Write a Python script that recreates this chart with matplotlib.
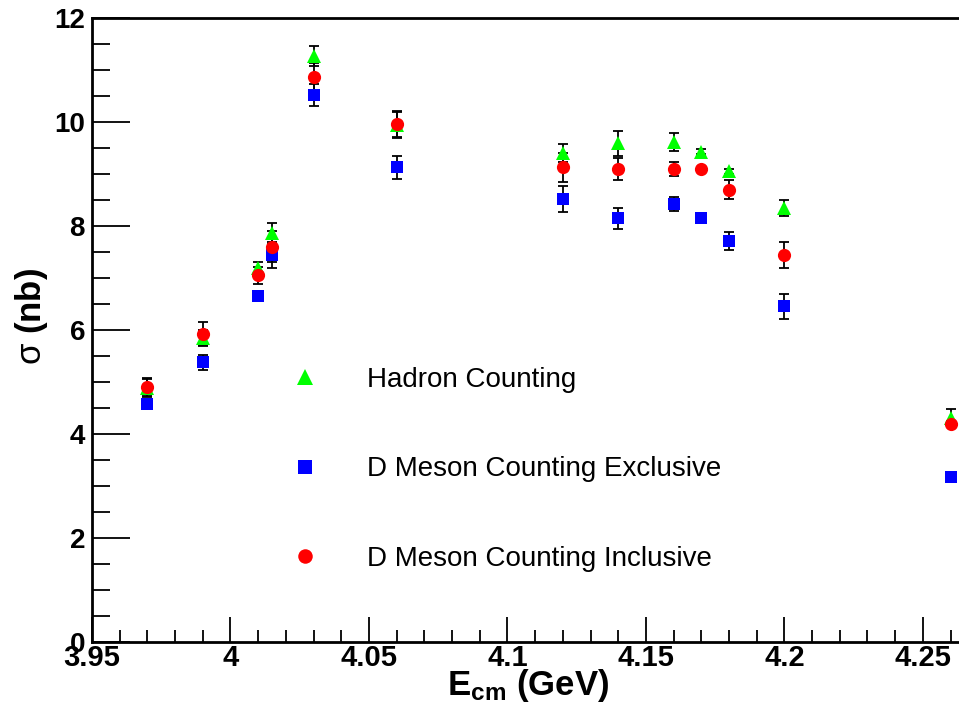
import matplotlib
matplotlib.use("Agg")
import matplotlib.pyplot as plt
from matplotlib.ticker import MultipleLocator
import numpy as np

plt.rcParams['font.family'] = ['Liberation Sans', 'DejaVu Sans']
plt.rcParams['mathtext.fontset'] = 'custom'
plt.rcParams['mathtext.bf'] = 'Liberation Sans:bold'
plt.rcParams['mathtext.rm'] = 'Liberation Sans'
plt.rcParams['mathtext.it'] = 'Liberation Sans:italic'

energy = [3.97, 3.99, 4.01, 4.015, 4.03, 4.06, 4.12, 4.14, 4.16, 4.17, 4.18, 4.20, 4.26]

hadron = [4.89, 5.85, 7.20, 7.86, 11.27, 9.95, 9.40, 9.59, 9.61, 9.43, 9.05, 8.35, 4.31]
hadron_err = [0.17, 0.15, 0.10, 0.20, 0.20, 0.25, 0.17, 0.24, 0.17, 0.05, 0.05, 0.15, 0.18]

excl = [4.58, 5.38, 6.65, 7.44, 10.52, 9.13, 8.52, 8.15, 8.42, 8.15, 7.71, 6.46, 3.17]
excl_err = [0.10, 0.14, 0.10, 0.25, 0.21, 0.22, 0.25, 0.20, 0.14, 0.05, 0.17, 0.24, 0.05]

incl = [4.91, 5.93, 7.05, 7.60, 10.86, 9.97, 9.13, 9.10, 9.10, 9.09, 8.70, 7.45, 4.20]
incl_err = [0.17, 0.22, 0.17, 0.30, 0.28, 0.25, 0.28, 0.21, 0.14, 0.05, 0.18, 0.25, 0.05]

labels = ["Hadron Counting", "D Meson Counting Exclusive", "D Meson Counting Inclusive"]
xtick_vals = [3.95, 4.0, 4.05, 4.1, 4.15, 4.2, 4.25]
xtick_labels = ["3.95", "4", "4.05", "4.1", "4.15", "4.2", "4.25"]

fig = plt.figure(figsize=(9.59, 7.09), dpi=100)
ax = fig.add_axes([92/959, 1 - 642/709, 1 - 92/959 + 0.01, (642 - 18)/709])

series = [
    (hadron, hadron_err, '^', '#00ff00', 10),
    (excl, excl_err, 's', '#0000ff', 9),
    (incl, incl_err, 'o', '#ff0000', 9.5),
]
handles = []
for (vals, errs, mk, col, ms), lab in zip(series, labels):
    ax.errorbar(energy, vals, yerr=errs, fmt='none', ecolor='black',
                elinewidth=1.3, capsize=3.5, capthick=1.3, zorder=2)
    h, = ax.plot(energy, vals, linestyle='none', marker=mk, color=col,
                 markersize=ms, markeredgewidth=0, zorder=3, label=lab)
    handles.append(h)

ax.set_xlim(3.95, 4.2665)
ax.set_ylim(0, 12)
ax.set_xticks(xtick_vals)
ax.set_xticklabels(xtick_labels)
ax.xaxis.set_minor_locator(MultipleLocator(0.01))
ax.yaxis.set_major_locator(MultipleLocator(2))
ax.yaxis.set_minor_locator(MultipleLocator(0.5))
ax.tick_params(axis='x', which='major', direction='in', length=18, width=1.3,
               labelsize=21, pad=1.5)
ax.tick_params(axis='x', which='minor', direction='in', length=9, width=1.3)
ax.tick_params(axis='y', which='major', direction='in', length=27, width=1.3,
               labelsize=20, pad=5)
ax.tick_params(axis='y', which='minor', direction='in', length=13, width=1.3)
for lab in ax.get_xticklabels() + ax.get_yticklabels():
    lab.set_fontweight('bold')
for s in ['left', 'bottom', 'top']:
    ax.spines[s].set_linewidth(2)
ax.spines['right'].set_visible(False)

fig.text(32/959, 1 - 316/709, r"$\mathrm{\sigma}$ (nb)", fontsize=25,
         fontweight='bold', rotation=90, ha='center', va='center')
fig.text(528/959, 1 - 686/709, r"$\mathbf{E_{cm}}$ (GeV)", fontsize=25,
         fontweight='bold', ha='center', va='center')

leg = ax.legend(handles=handles, loc='upper left',
                bbox_to_anchor=(291/959, 1 - 367/709), bbox_transform=fig.transFigure,
                frameon=False, fontsize=20, handlelength=1.0, handletextpad=1.75,
                labelspacing=2.28, borderpad=0, borderaxespad=0, numpoints=1,
                markerscale=1.1)

fig.savefig("out.png", dpi=100)
